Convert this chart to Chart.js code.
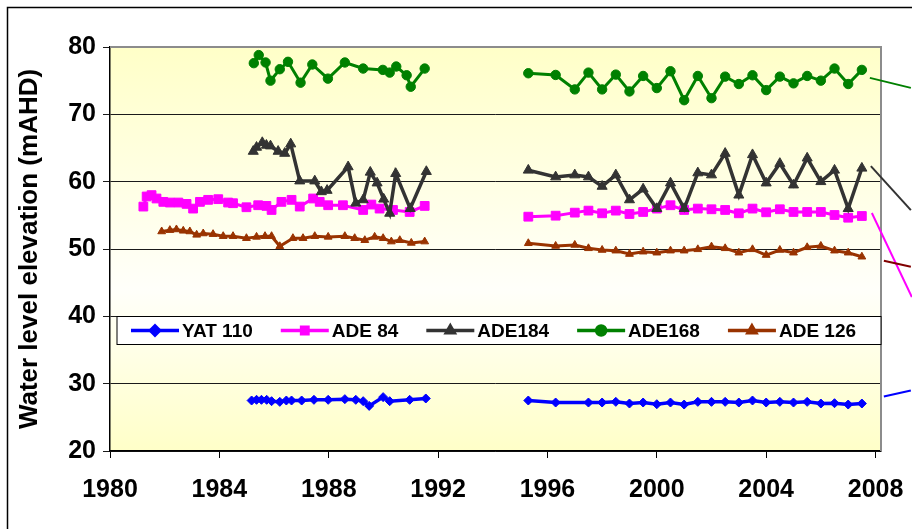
<!DOCTYPE html>
<html>
<head>
<meta charset="utf-8">
<script src="https://cdn.jsdelivr.net/npm/chart.js@4/dist/chart.umd.min.js"></script>
<style>
  html, body { margin: 0; padding: 0; background: #fff; }
  canvas { display: block; }
</style>
</head>
<body>
<canvas id="wl" width="912" height="529" style="width:912px;height:529px"></canvas>
<script>
// Bore water level records (mAHD), two monitoring periods per bore.
const xTickYears = [1980, 1984, 1988, 1992, 1996, 2000, 2004, 2008];
const yTickLevels = [20, 30, 40, 50, 60, 70, 80];

// Second monitoring period: half-yearly readings
const surveyYears2 = [1995.3, 1996.3, 1997.0, 1997.5, 1998.0, 1998.5, 1999.0, 1999.5, 2000.0, 2000.5,
  2001.0, 2001.5, 2002.0, 2002.5, 2003.0, 2003.5, 2004.0, 2004.5, 2005.0, 2005.5, 2006.0, 2006.5, 2007.0, 2007.5];

// YAT 110
const yat110Years1 = [1985.18, 1985.36, 1985.54, 1985.73, 1985.91, 1986.21, 1986.45, 1986.64, 1987.01, 1987.46,
  1987.98, 1988.59, 1988.99, 1989.26, 1989.48, 1989.99, 1990.23, 1990.96, 1991.55];
const yat110Levels1 = [27.5, 27.6, 27.6, 27.6, 27.4, 27.3, 27.5, 27.5, 27.5, 27.6,
  27.6, 27.7, 27.6, 27.4, 26.7, 28.0, 27.4, 27.6, 27.8];
const yat110Years2 = [1995.3, 1996.3, 1997.5, 1998.0, 1998.5, 1999.0, 1999.5, 2000.0, 2000.5, 2001.0, 2001.5,
  2002.0, 2002.5, 2003.0, 2003.5, 2004.0, 2004.5, 2005.0, 2005.5, 2006.0, 2006.5, 2007.0, 2007.5];
const yat110Levels2 = [27.5, 27.2, 27.2, 27.2, 27.3, 27.05, 27.2, 26.95, 27.2, 26.9, 27.3,
  27.3, 27.3, 27.2, 27.5, 27.2, 27.3, 27.2, 27.3, 27.05, 27.1, 26.9, 27.05];

// ADE 84
const ade84Years1 = [1981.22, 1981.34, 1981.52, 1981.70, 1981.95, 1982.19, 1982.50, 1982.80, 1983.04, 1983.29,
  1983.59, 1983.96, 1984.32, 1984.50, 1984.99, 1985.42, 1985.72, 1985.91, 1986.27, 1986.64,
  1986.94, 1987.43, 1987.67, 1987.98, 1988.52, 1989.26, 1989.56, 1989.86, 1990.35, 1990.96, 1991.51];
const ade84Levels1 = [56.3, 57.8, 58.0, 57.5, 57.0, 56.9, 56.9, 56.7, 56.0, 57.0,
  57.3, 57.4, 56.9, 56.8, 56.2, 56.5, 56.4, 55.8, 57.0, 57.3,
  56.3, 57.5, 57.0, 56.5, 56.5, 55.8, 56.6, 56.0, 55.8, 55.5, 56.4];
const ade84Levels2 = [54.8, 54.95, 55.4, 55.7, 55.3, 55.7, 55.2, 55.5, 56.0, 56.5, 55.8, 56.0,
  55.9, 55.8, 55.3, 56.0, 55.45, 55.9, 55.5, 55.5, 55.5, 55.05, 54.65, 54.9];

// ADE184
const ade184Years1 = [1985.24, 1985.36, 1985.57, 1985.72, 1985.87, 1986.15, 1986.39, 1986.61, 1986.94, 1987.49,
  1987.73, 1987.94, 1988.71, 1988.99, 1989.26, 1989.52, 1989.77, 1990.01, 1990.23, 1990.45, 1990.98, 1991.57];
const ade184Levels1 = [64.5, 65.1, 65.8, 65.4, 65.3, 64.5, 64.2, 65.6, 60.1, 60.1,
  58.5, 58.7, 62.2, 56.8, 57.3, 61.4, 59.8, 57.4, 55.3, 61.2, 56.0, 61.5];
const ade184Levels2 = [61.7, 60.7, 61.0, 60.7, 59.3, 61.0, 57.3, 58.9, 56.0, 59.8, 56.0, 61.3,
  61.0, 64.2, 58.0, 64.0, 59.8, 62.7, 59.5, 63.5, 60.0, 61.7, 56.0, 62.0];

// ADE168
const ade168Years1 = [1985.26, 1985.44, 1985.69, 1985.87, 1986.21, 1986.51, 1986.97, 1987.40, 1987.97, 1988.59,
  1989.26, 1989.98, 1990.23, 1990.47, 1990.85, 1991.0, 1991.51];
const ade168Levels1 = [77.6, 78.8, 77.7, 75.0, 76.7, 77.8, 74.7, 77.4, 75.3, 77.7,
  76.8, 76.6, 76.2, 77.1, 75.8, 74.1, 76.8];
const ade168Levels2 = [76.1, 75.85, 73.7, 76.2, 73.7, 75.9, 73.4, 75.7, 73.9, 76.4, 72.1, 75.7,
  72.4, 75.6, 74.5, 75.8, 73.6, 75.6, 74.6, 75.7, 75.0, 76.8, 74.5, 76.6];

// ADE 126
const ade126Years1 = [1981.89, 1982.19, 1982.43, 1982.68, 1982.92, 1983.17, 1983.41, 1983.77, 1984.14, 1984.50,
  1984.99, 1985.36, 1985.67, 1985.91, 1986.21, 1986.69, 1987.06, 1987.49, 1987.98, 1988.59,
  1988.95, 1989.32, 1989.68, 1989.99, 1990.29, 1990.60, 1991.02, 1991.51];
const ade126Levels1 = [52.6, 52.8, 52.9, 52.7, 52.6, 52.1, 52.3, 52.2, 51.9, 51.9,
  51.6, 51.8, 51.9, 51.9, 50.4, 51.6, 51.6, 51.9, 51.8, 51.9,
  51.6, 51.3, 51.8, 51.6, 51.1, 51.3, 50.9, 51.1];
const ade126Levels2 = [50.85, 50.45, 50.6, 50.1, 49.85, 49.75, 49.25, 49.6, 49.45, 49.75, 49.75, 49.95,
  50.35, 50.1, 49.45, 49.95, 49.1, 49.85, 49.45, 50.25, 50.45, 49.75, 49.45, 48.85];

// Join two periods with a null reading so the line breaks across the gap in records.
function joinPeriods(years1, levels1, years2, levels2) {
  const a = years1.map((x, i) => ({ x, y: levels1[i] }));
  const b = years2.map((x, i) => ({ x, y: levels2[i] }));
  const gapYear = (years1[years1.length - 1] + years2[0]) / 2;
  return a.concat([{ x: gapYear, y: null }], b);
}

const FONT = "'Liberation Sans', Arial, Helvetica, sans-serif";

function lineSeries(label, data, color, style, radius, width, order) {
  return {
    label, data, order,
    borderColor: color, backgroundColor: color,
    pointBackgroundColor: color, pointBorderColor: color,
    pointStyle: style, pointRadius: radius, pointBorderWidth: 1,
    borderWidth: width, tension: 0, spanGaps: false
  };
}

const datasets = [
  lineSeries('YAT 110', joinPeriods(yat110Years1, yat110Levels1, yat110Years2, yat110Levels2), '#0000FF', 'rectRot', 4.5, 3.5, 5),
  lineSeries('ADE 84', joinPeriods(ade84Years1, ade84Levels1, surveyYears2, ade84Levels2), '#FF00FF', 'rect', 6.2, 3, 4),
  lineSeries('ADE184', joinPeriods(ade184Years1, ade184Levels1, surveyYears2, ade184Levels2), '#333333', 'triangle', 5.8, 3.5, 3),
  lineSeries('ADE168', joinPeriods(ade168Years1, ade168Levels1, surveyYears2, ade168Levels2), '#008000', 'circle', 4.7, 3, 2),
  lineSeries('ADE 126', joinPeriods(ade126Years1, ade126Levels1, surveyYears2, ade126Levels2), '#993300', 'triangle', 4.5, 3, 1)
];

// Leader lines running from each series' last reading off to the right edge.
const leaderStyles = [
  { color: '#0000FF', from: [22, -7], to: [49, -13] },
  { color: '#FF00FF', from: [10, -3], to: [50, 81] },
  { color: '#333333', from: [9, -2], to: [49, 42] },
  { color: '#008000', from: [8, 8], to: [49, 18] },
  { color: '#800000', from: [22, 4], to: [49, 10] }
];

const decorPlugin = {
  id: 'decor',
  beforeDraw(chart) {
    const { ctx, chartArea: a, width, height } = chart;
    ctx.save();
    ctx.fillStyle = '#ffffff';
    ctx.fillRect(0, 0, width, height);
    const g = ctx.createLinearGradient(0, a.top, 0, a.bottom);
    g.addColorStop(0, '#FFFFC8');
    g.addColorStop(0.6, '#FFFFFA');
    g.addColorStop(1, '#FFFFC8');
    ctx.fillStyle = g;
    ctx.fillRect(a.left, a.top, a.right - a.left, a.bottom - a.top);
    // outer frame
    ctx.strokeStyle = '#000';
    ctx.lineWidth = 1.5;
    ctx.beginPath();
    ctx.moveTo(7.5, height + 2);
    ctx.lineTo(7.5, 7.5);
    ctx.lineTo(width + 2, 7.5);
    ctx.stroke();
    ctx.restore();
  },
  beforeDatasetsDraw(chart) {
    const { ctx, chartArea: a } = chart;
    ctx.save();
    ctx.strokeStyle = '#8c8c8c';
    ctx.lineWidth = 2;
    ctx.beginPath();
    ctx.moveTo(a.left, a.top);
    ctx.lineTo(a.right, a.top);
    ctx.lineTo(a.right, a.bottom);
    ctx.stroke();
    ctx.restore();
  },
  afterDatasetsDraw(chart) {
    const { ctx, chartArea: a } = chart;
    ctx.save();
    // legend box
    const top = 316.5, h = 28, left = a.left + 7, right = a.right;
    ctx.fillStyle = '#fff';
    ctx.fillRect(left, top, right - left, h);
    ctx.strokeStyle = '#000';
    ctx.lineWidth = 1;
    ctx.strokeRect(left, top, right - left, h);
    ctx.font = "bold 19px " + FONT;
    ctx.textBaseline = 'middle';
    ctx.textAlign = 'left';
    const cy = top + h / 2;
    let x = left + 14;
    chart.data.datasets.forEach(ds => {
      ctx.strokeStyle = ds.borderColor;
      ctx.lineWidth = 3.5;
      ctx.beginPath();
      ctx.moveTo(x, cy);
      ctx.lineTo(x + 48, cy);
      ctx.stroke();
      Chart.helpers.drawPoint(ctx, {
        pointStyle: ds.pointStyle, radius: Math.min(ds.pointRadius, 4.5), rotation: 0, borderWidth: 1
      }, x + 24, cy);
      ctx.fillStyle = ds.borderColor;
      ctx.fill();
      ctx.fillStyle = '#000';
      ctx.fillText(ds.label, x + 51, cy + 1);
      x += 51 + ctx.measureText(ds.label).width + 28;
    });
    ctx.restore();
  },
  afterDraw(chart) {
    const { ctx } = chart;
    const xs = chart.scales.x, ys = chart.scales.y;
    ctx.save();
    ctx.lineWidth = 2;
    chart.data.datasets.forEach((ds, i) => {
      const last = ds.data[ds.data.length - 1];
      const px = xs.getPixelForValue(last.x), py = ys.getPixelForValue(last.y);
      const s = leaderStyles[i];
      ctx.strokeStyle = s.color;
      ctx.beginPath();
      ctx.moveTo(px + s.from[0], py + s.from[1]);
      ctx.lineTo(px + s.to[0], py + s.to[1]);
      ctx.stroke();
    });
    ctx.restore();
  }
};

new Chart(document.getElementById('wl'), {
  type: 'line',
  data: { datasets },
  plugins: [decorPlugin],
  options: {
    responsive: false,
    animation: false,
    devicePixelRatio: 1,
    layout: { padding: { left: 0, top: 47, right: 31, bottom: 0 } },
    plugins: { legend: { display: false }, tooltip: { enabled: false } },
    scales: {
      x: {
        type: 'linear', min: 1980, max: 2008.2,
        afterBuildTicks: s => { s.ticks = xTickYears.map(v => ({ value: v })); },
        afterFit: s => { s.height = 78; s.paddingLeft = 0; s.paddingRight = 0; },
        grid: { drawOnChartArea: false, tickLength: 7, color: '#000', lineWidth: 1 },
        border: { color: '#000', width: 1.5 },
        ticks: {
          autoSkip: false, maxRotation: 0, padding: 17, color: '#000',
          font: { family: FONT, size: 25, weight: 'bold' },
          callback: v => String(v)
        }
      },
      y: {
        min: 20, max: 80,
        afterBuildTicks: s => { s.ticks = yTickLevels.map(v => ({ value: v })); },
        afterFit: s => { s.width = 110; s.paddingTop = 0; s.paddingBottom = 0; },
        grid: { color: '#1a1a1a', lineWidth: 1, tickLength: 7 },
        border: { color: '#000', width: 1.5 },
        ticks: {
          padding: 7, color: '#000',
          font: { family: FONT, size: 25, weight: 'bold' },
          callback: v => String(v)
        },
        title: {
          display: true, text: 'Water level elevation (mAHD)', color: '#000',
          font: { family: FONT, size: 26, weight: 'bold' },
          padding: { top: 14, bottom: 0 }
        }
      }
    }
  }
});
</script>
</body>
</html>
